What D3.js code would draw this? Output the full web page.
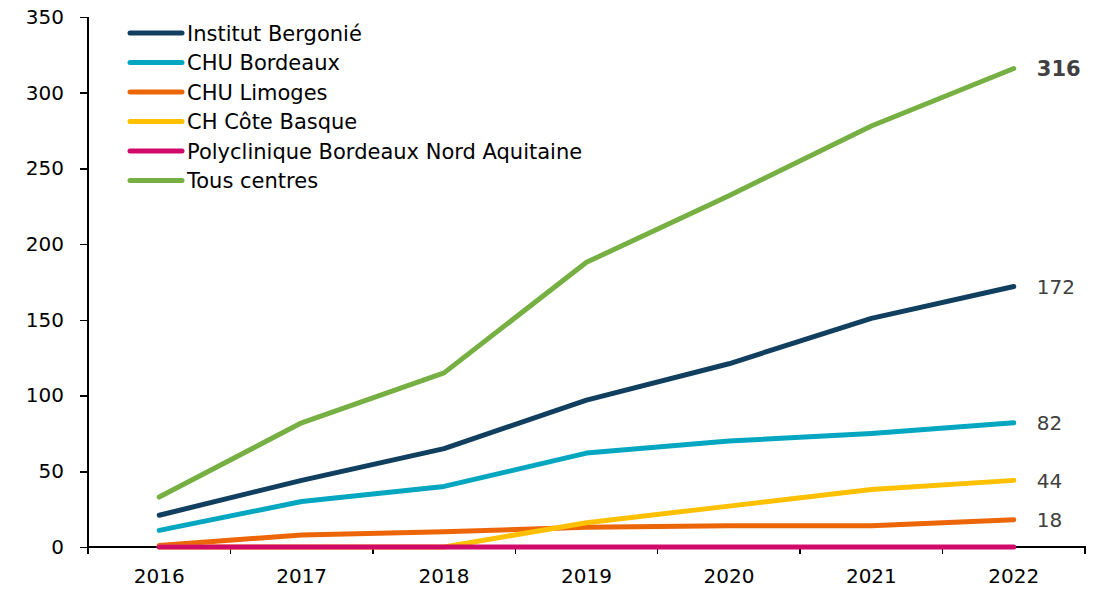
<!DOCTYPE html>
<html lang="fr">
<head>
  <meta charset="utf-8">
  <title>Tous centres</title>
  <script src="https://d3js.org/d3.v7.min.js"></script>
  <style>
    body { margin: 0; background: #fff; }
    text { font-family: Tahoma, "DejaVu Sans", sans-serif; }
    .axis path, .axis line { stroke: #000; stroke-width: 1.5; shape-rendering: crispEdges; }
    .axis text { font-size: 20px; fill: #000; }
  </style>
</head>
<body>
<script>
// categories
var years = ["2016", "2017", "2018", "2019", "2020", "2021", "2022"];
var seriesNames = ["Institut Bergonié", "CHU Bordeaux", "CHU Limoges", "CH Côte Basque",
                   "Polyclinique Bordeaux Nord Aquitaine", "Tous centres"];
var seriesColors = ["#113f5f", "#05a6c0", "#ec6608", "#ffc000", "#cf0a68", "#76b043"];

// values
var bergonie  = [21, 44, 65, 97, 121, 151, 172];
var chuBdx    = [11, 30, 40, 62, 70, 75, 82];
var chuLim    = [1, 8, 10, 13, 14, 14, 18];
var chCote    = [0, 0, 0, 16, 27, 38, 44];
var polyBna   = [0, 0, 0, 0, 0, 0, 0];
var tous      = [33, 82, 115, 188, 232, 278, 316];
var yTicks    = [0, 50, 100, 150, 200, 250, 300, 350];

var allValues = [bergonie, chuBdx, chuLim, chCote, polyBna, tous];
// which end labels are shown, and which is bold
var endLabel = [true, true, true, true, false, true];
var endBold  = [false, false, false, false, false, true];

var W = 1111, H = 593;
var margin = {top: 17, right: 26, bottom: 46, left: 88};
var w = W - margin.left - margin.right;
var h = H - margin.top - margin.bottom;

var svg = d3.select("body").append("svg")
  .attr("width", W).attr("height", H)
  .append("g")
  .attr("transform", "translate(" + margin.left + "," + margin.top + ")");

var x = d3.scaleBand().domain(years).range([0, w]);
var y = d3.scaleLinear().domain([0, 350]).range([h, 0]);

// y axis
var yAxis = svg.append("g").attr("class", "axis")
  .call(d3.axisLeft(y).tickValues(yTicks).tickSize(8).tickPadding(16));
yAxis.select(".domain").attr("d", "M0," + h + "V0");

// x axis with ticks at the band edges
var xg = svg.append("g").attr("class", "axis")
  .attr("transform", "translate(0," + h + ")")
  .call(d3.axisBottom(x).tickSize(0).tickPadding(22));
xg.select(".domain").attr("d", "M0,0H" + w + "V7");
var edges = years.slice(1).map(function(d) { return x(d); });
edges.unshift(0);
xg.selectAll(".edge").data(edges).enter().append("line")
  .attr("class", "edge")
  .attr("x1", function(d) { return d; }).attr("x2", function(d) { return d; })
  .attr("y1", 0).attr("y2", 7);

var line = d3.line()
  .x(function(d, i) { return x(years[i]) + x.bandwidth() / 2; })
  .y(function(d) { return y(d); });

allValues.forEach(function(vals, k) {
  svg.append("path")
    .attr("d", line(vals))
    .attr("fill", "none")
    .attr("stroke", seriesColors[k])
    .attr("stroke-width", 5)
    .attr("stroke-linejoin", "round")
    .attr("stroke-linecap", "round");

  if (endLabel[k]) {
    var last = vals[vals.length - 1];
    svg.append("text")
      .attr("x", x(years[years.length - 1]) + x.bandwidth() / 2 + 23)
      .attr("y", y(last))
      .attr("dy", "0.36em")
      .style("font-size", endBold[k] ? "21px" : "20px")
      .style("font-weight", endBold[k] ? "bold" : "normal")
      .style("fill", "#404040")
      .text(last);
  }
});

// legend
var legend = svg.append("g").attr("transform", "translate(40,16)");
seriesNames.forEach(function(name, k) {
  var g = legend.append("g").attr("transform", "translate(0," + (k * 29.5) + ")");
  g.append("line")
    .attr("x1", 2).attr("x2", 54).attr("y1", 0).attr("y2", 0)
    .attr("stroke", seriesColors[k]).attr("stroke-width", 5)
    .attr("stroke-linecap", "round");
  g.append("text")
    .attr("x", 59).attr("dy", "0.36em")
    .style("font-size", "21px").style("fill", "#000")
    .text(name);
});
</script>
</body>
</html>
